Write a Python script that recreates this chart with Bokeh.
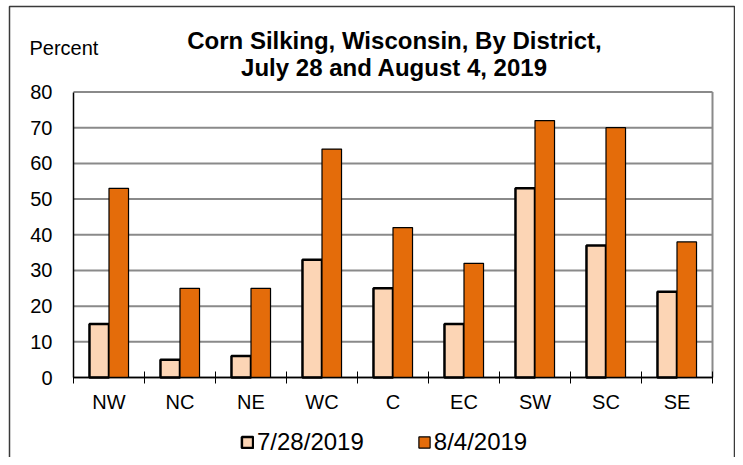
from bokeh.plotting import figure
from bokeh.models import (Range1d, FixedTicker, Label, Legend, LegendItem,
                          ColumnDataSource, LinearAxis)
from bokeh.embed import file_html
from bokeh.resources import INLINE

# ---- data ----
districts = ["NW", "NC", "NE", "WC", "C", "EC", "SW", "SC", "SE"]
jul28 = [15, 5, 6, 33, 25, 15, 53, 37, 24]
aug4 = [53, 25, 25, 64, 42, 32, 72, 70, 38]
series_labels = ["7/28/2019", "8/4/2019"]
y_ticks = [0, 10, 20, 30, 40, 50, 60, 70, 80]
title_lines = ["Corn Silking, Wisconsin, By District,", "July 28 and August 4, 2019"]
y_title = "Percent"

# ---- layout (pixels) ----
W, H = 735, 457
PX_L, PX_R, PX_T, PX_B = 73, 712, 91.5, 377
FONT = "Liberation Sans"
n = len(districts)
ymax = y_ticks[-1]
sx = (PX_R - PX_L) / n
sy = (PX_B - PX_T) / ymax


def dx(px):
    return (px - PX_L) / sx


def dy(py):
    return (PX_B - py) / sy


centers = [i + 0.5 for i in range(n)]
bounds_x = list(range(n + 1))
bw = 0.275

src = ColumnDataSource(dict(
    x1=[c - bw / 2 for c in centers],
    x2=[c + bw / 2 for c in centers],
    jul=jul28, aug=aug4))

p = figure(width=W, height=H, x_range=Range1d(dx(0), dx(W)), y_range=Range1d(dy(H), dy(0)),
           x_axis_location=None, y_axis_location=None,
           output_backend="svg", toolbar_location=None, min_border=0)
p.background_fill_color = "white"
p.border_fill_color = "white"
p.outline_line_color = None
p.xgrid.visible = False
p.ygrid.visible = False

# outer chart border
p.line(x=[dx(9), dx(9), dx(734), dx(734)], y=[dy(H + 5), dy(6), dy(6), dy(H + 5)],
       line_color="#3a3a3a", line_width=1.5)

# gridlines and plot-area border
p.segment(x0=[0] * len(y_ticks), x1=[n] * len(y_ticks), y0=y_ticks, y1=y_ticks,
          line_color="#8a8a8a", line_width=2)
p.segment(x0=[n], x1=[n], y0=[0], y1=[ymax], line_color="#8a8a8a", line_width=2)

r1 = p.vbar(x="x1", top="jul", width=bw, source=src, fill_color="#FCD5B5",
            line_color="black", line_width=2.5)
r2 = p.vbar(x="x2", top="aug", width=bw, source=src, fill_color="#E46C0A",
            line_color="black", line_width=1.2)

# x axis
xaxis = LinearAxis(fixed_location=0, bounds=(0, n),
                   ticker=FixedTicker(ticks=centers, minor_ticks=bounds_x))
xaxis.major_label_overrides = {c: d for c, d in zip(centers, districts)}
xaxis.major_tick_line_color = None
xaxis.minor_tick_line_color = "black"
xaxis.minor_tick_in = 6
xaxis.minor_tick_out = 6
xaxis.axis_line_color = "black"
xaxis.axis_line_width = 1.5
xaxis.major_label_text_font = FONT
xaxis.major_label_text_font_size = "20px"
xaxis.major_label_text_color = "black"
xaxis.major_label_standoff = 7
p.add_layout(xaxis, "below")

# y axis
yaxis = LinearAxis(fixed_location=0, bounds=(0, ymax), ticker=FixedTicker(ticks=y_ticks))
yaxis.major_tick_line_color = None
yaxis.minor_tick_line_color = None
yaxis.axis_line_color = "black"
yaxis.axis_line_width = 1.5
yaxis.major_label_text_font = FONT
yaxis.major_label_text_font_size = "20px"
yaxis.major_label_text_color = "black"
yaxis.major_label_standoff = 15
p.add_layout(yaxis, "left")

# titles
p.add_layout(Label(x=dx(394), y=dy(40), text=title_lines[0], text_align="center",
                   text_baseline="alphabetic", text_font=FONT, text_font_style="bold",
                   text_font_size="24px", text_color="black"))
p.add_layout(Label(x=dx(394), y=dy(67), text=title_lines[1], text_align="center",
                   text_baseline="alphabetic", text_font=FONT, text_font_style="bold",
                   text_font_size="24px", text_color="black"))
p.add_layout(Label(x=dx(29), y=dy(47.5), text=y_title, text_align="left",
                   text_baseline="alphabetic", text_font=FONT,
                   text_font_size="20px", text_color="black"))

legend = Legend(items=[LegendItem(label=series_labels[0], renderers=[r1]),
                       LegendItem(label=series_labels[1], renderers=[r2])],
                orientation="horizontal", location=(240, 1),
                glyph_width=14, glyph_height=14, label_standoff=3, spacing=53,
                padding=0, margin=0, border_line_alpha=0, background_fill_alpha=0,
                label_text_font=FONT, label_text_font_size="24px",
                label_text_color="black")
p.add_layout(legend)

open("out.html", "w").write(file_html(p, INLINE))
